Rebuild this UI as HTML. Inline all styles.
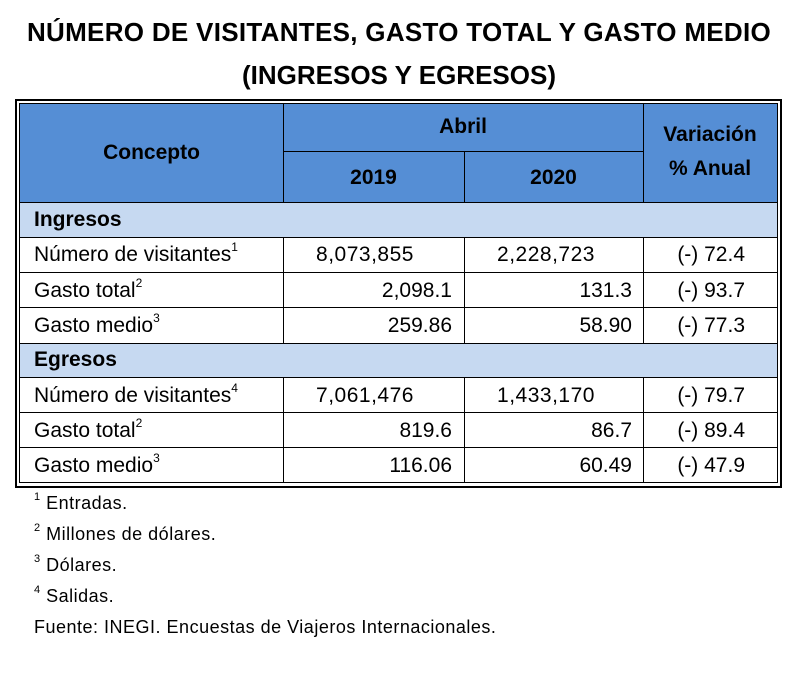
<!DOCTYPE html>
<html><head><meta charset="utf-8"><style>
body{margin:0;width:798px;height:684px;background:#fff;position:relative;font-family:"Liberation Sans",sans-serif;color:#000;overflow:hidden}
.a{position:absolute}
.t{position:absolute;left:0;width:798px;text-align:center;font-weight:bold;font-size:26px}
.h{position:absolute;background:#000}
.c{position:absolute;font-size:21px;white-space:nowrap}
.r{text-align:right}
.b{font-weight:bold}
sup{font-size:12px;vertical-align:top;position:relative;top:-3px}
.f{position:absolute;left:34px;font-size:18px;letter-spacing:0.5px}
.f sup{font-size:11px;top:-2px}
</style></head><body>
<div class="t" style="top:17px;letter-spacing:0.3px">NÚMERO DE VISITANTES, GASTO TOTAL Y GASTO MEDIO</div>
<div class="t" style="top:60px">(INGRESOS Y EGRESOS)</div>
<div class="a" style="left:20px;top:104px;width:757px;height:98px;background:#558ed5"></div>
<div class="a" style="left:20px;top:202px;width:757px;height:35px;background:#c6d9f1"></div>
<div class="a" style="left:20px;top:343px;width:757px;height:34px;background:#c6d9f1"></div>
<div class="h" style="left:15px;top:99px;width:767px;height:2px"></div>
<div class="h" style="left:19px;top:103px;width:759px;height:1px"></div>
<div class="h" style="left:15px;top:486px;width:767px;height:2px"></div>
<div class="h" style="left:19px;top:482px;width:759px;height:1px"></div>
<div class="h" style="left:15px;top:99px;width:2px;height:389px"></div>
<div class="h" style="left:19px;top:103px;width:1px;height:380px"></div>
<div class="h" style="left:780px;top:99px;width:2px;height:389px"></div>
<div class="h" style="left:777px;top:103px;width:1px;height:380px"></div>
<div class="h" style="left:283px;top:151px;width:360px;height:1px"></div>
<div class="h" style="left:19px;top:202px;width:759px;height:1px"></div>
<div class="h" style="left:19px;top:237px;width:759px;height:1px"></div>
<div class="h" style="left:19px;top:272px;width:759px;height:1px"></div>
<div class="h" style="left:19px;top:307px;width:759px;height:1px"></div>
<div class="h" style="left:19px;top:343px;width:759px;height:1px"></div>
<div class="h" style="left:19px;top:377px;width:759px;height:1px"></div>
<div class="h" style="left:19px;top:412px;width:759px;height:1px"></div>
<div class="h" style="left:19px;top:447px;width:759px;height:1px"></div>
<div class="h" style="left:283px;top:103px;width:1px;height:99px"></div>
<div class="h" style="left:643px;top:103px;width:1px;height:99px"></div>
<div class="h" style="left:464px;top:151px;width:1px;height:51px"></div>
<div class="h" style="left:283px;top:237px;width:1px;height:106px"></div>
<div class="h" style="left:464px;top:237px;width:1px;height:106px"></div>
<div class="h" style="left:643px;top:237px;width:1px;height:106px"></div>
<div class="h" style="left:283px;top:377px;width:1px;height:106px"></div>
<div class="h" style="left:464px;top:377px;width:1px;height:106px"></div>
<div class="h" style="left:643px;top:377px;width:1px;height:106px"></div>
<div class="c b" style="left:20px;width:263px;text-align:center;top:141px">Concepto</div>
<div class="c b" style="left:283px;width:360px;text-align:center;top:115px">Abril</div>
<div class="c b" style="left:283px;width:181px;text-align:center;top:166px">2019</div>
<div class="c b" style="left:464px;width:179px;text-align:center;top:166px">2020</div>
<div class="c b" style="left:643px;width:134px;text-align:center;top:123px">Variación</div>
<div class="c b" style="left:643px;width:134px;text-align:center;top:157px">% Anual</div>
<div class="c b" style="left:34px;top:208px">Ingresos</div>
<div class="c" style="left:34px;top:243px">Número de visitantes<sup>1</sup></div>
<div class="c" style="left:34px;top:279px">Gasto total<sup>2</sup></div>
<div class="c" style="left:34px;top:314px">Gasto medio<sup>3</sup></div>
<div class="c b" style="left:34px;top:348px">Egresos</div>
<div class="c" style="left:34px;top:384px">Número de visitantes<sup>4</sup></div>
<div class="c" style="left:34px;top:419px">Gasto total<sup>2</sup></div>
<div class="c" style="left:34px;top:454px">Gasto medio<sup>3</sup></div>
<div class="c" style="left:305px;width:120px;text-align:center;top:243px;letter-spacing:0.5px">8,073,855</div>
<div class="c r" style="left:300px;width:152px;top:279px">2,098.1</div>
<div class="c r" style="left:300px;width:152px;top:314px">259.86</div>
<div class="c" style="left:305px;width:120px;text-align:center;top:384px;letter-spacing:0.5px">7,061,476</div>
<div class="c r" style="left:300px;width:152px;top:419px">819.6</div>
<div class="c r" style="left:300px;width:152px;top:454px">116.06</div>
<div class="c" style="left:486px;width:120px;text-align:center;top:243px;letter-spacing:0.5px">2,228,723</div>
<div class="c r" style="left:470px;width:162px;top:279px">131.3</div>
<div class="c r" style="left:470px;width:162px;top:314px">58.90</div>
<div class="c" style="left:486px;width:120px;text-align:center;top:384px;letter-spacing:0.5px">1,433,170</div>
<div class="c r" style="left:470px;width:162px;top:419px">86.7</div>
<div class="c r" style="left:470px;width:162px;top:454px">60.49</div>
<div class="c r" style="left:643px;width:102px;top:243px">(-) 72.4</div>
<div class="c r" style="left:643px;width:102px;top:279px">(-) 93.7</div>
<div class="c r" style="left:643px;width:102px;top:314px">(-) 77.3</div>
<div class="c r" style="left:643px;width:102px;top:384px">(-) 79.7</div>
<div class="c r" style="left:643px;width:102px;top:419px">(-) 89.4</div>
<div class="c r" style="left:643px;width:102px;top:454px">(-) 47.9</div>
<div class="f" style="top:493px"><sup>1</sup> Entradas.</div>
<div class="f" style="top:524px"><sup>2</sup> Millones de dólares.</div>
<div class="f" style="top:555px"><sup>3</sup> Dólares.</div>
<div class="f" style="top:586px"><sup>4</sup> Salidas.</div>
<div class="f" style="top:617px">Fuente: INEGI. Encuestas de Viajeros Internacionales.</div>
</body></html>
